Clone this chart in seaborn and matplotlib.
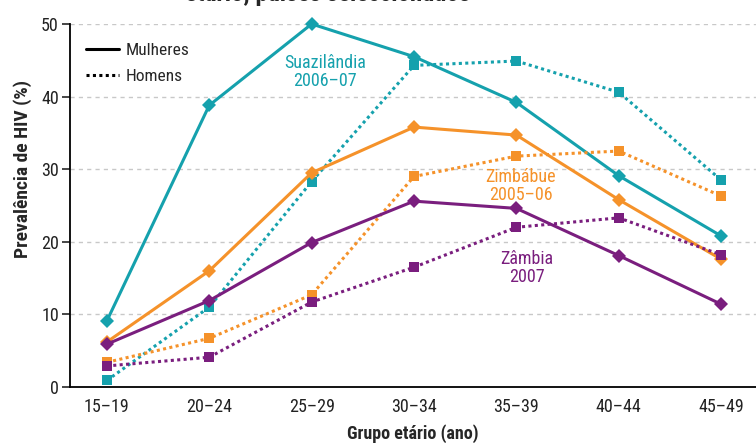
import pandas as pd
import matplotlib.pyplot as plt
from matplotlib.lines import Line2D
from matplotlib import font_manager
import seaborn as sns

# Age groups (x categories)
grupos = ["15–19", "20–24", "25–29", "30–34", "35–39", "40–44", "45–49"]

# HIV prevalence (%)
suazi_mulheres = [9.1, 38.8, 50.0, 45.5, 39.2, 29.1, 20.8]
suazi_homens = [0.9, 11.0, 28.3, 44.3, 44.9, 40.6, 28.5]
zimb_mulheres = [6.2, 16.0, 29.5, 35.8, 34.7, 25.8, 17.6]
zimb_homens = [3.4, 6.7, 12.7, 29.0, 31.8, 32.5, 26.3]
zamb_mulheres = [5.9, 11.9, 19.9, 25.6, 24.6, 18.1, 11.4]
zamb_homens = [2.9, 4.1, 11.7, 16.5, 22.0, 23.3, 18.2]

paises = ["Suazilândia", "Zimbábue", "Zâmbia"]
cores = {"Suazilândia": "#15A1AD", "Zimbábue": "#F5922A", "Zâmbia": "#7A1E7E"}

series = {
    ("Suazilândia", "Mulheres"): suazi_mulheres,
    ("Suazilândia", "Homens"): suazi_homens,
    ("Zimbábue", "Mulheres"): zimb_mulheres,
    ("Zimbábue", "Homens"): zimb_homens,
    ("Zâmbia", "Mulheres"): zamb_mulheres,
    ("Zâmbia", "Homens"): zamb_homens,
}

rows = []
for (pais, sexo), vals in series.items():
    for i, v in enumerate(vals):
        rows.append({"pais": pais, "sexo": sexo, "idx": i, "valor": v})
df = pd.DataFrame(rows)

sns.set_style("white")
# pick a narrow family if one is installed
installed = {f.name for f in font_manager.fontManager.ttflist}
fams = [f for f in ["Liberation Sans Narrow", "DejaVu Sans Condensed", "Roboto Condensed", "Roboto"]
        if f in installed]
plt.rcParams["font.family"] = fams + ["DejaVu Sans"]

fig = plt.figure(figsize=(7.56, 4.43), dpi=100)
ax = fig.add_axes([70 / 756, 1 - 387 / 443, 1 - 70 / 756, (387 - 24) / 443])

# Dashed grid lines
for g in [10, 20, 30, 40, 50]:
    ax.axhline(g, color="#c8c8c8", lw=1, ls=(0, (3, 3)), zorder=0)

sns.lineplot(
    data=df, x="idx", y="valor", hue="pais", style="sexo",
    palette=cores, hue_order=paises, style_order=["Mulheres", "Homens"],
    markers={"Mulheres": "D", "Homens": "s"},
    dashes={"Mulheres": "", "Homens": (1, 1.1)},
    markersize=7.5, markeredgewidth=0, linewidth=2.2,
    legend=False, ax=ax, clip_on=False, zorder=3,
)

ax.set_xlim(-0.36, 6.34)
ax.set_ylim(0, 50)
ax.set_xticks(range(len(grupos)))
ax.set_xticklabels(grupos, fontsize=13, color="#222222")
ax.set_xticks([i + 0.5 for i in range(6)], minor=True)
ax.tick_params(axis="x", which="major", length=0, pad=8)
ax.tick_params(axis="x", which="minor", length=6, width=1.2, color="black", direction="out")
ax.set_yticks([0, 10, 20, 30, 40, 50])
ax.tick_params(axis="y", length=6, width=1.2, labelsize=13, pad=2, left=True,
               direction="out", labelcolor="#222222")
for s in ["top", "right"]:
    ax.spines[s].set_visible(False)
for s in ["left", "bottom"]:
    ax.spines[s].set_color("black")
    ax.spines[s].set_linewidth(1.3)

ax.set_xlabel("Grupo etário (ano)", fontsize=13, fontweight="bold", labelpad=6)
ax.set_ylabel("Prevalência de HIV (%)", fontsize=14, fontweight="bold")
ax.yaxis.set_label_coords(-0.056, 0.6)

# Country labels
ax.text(2.13, 43.4, "Suazilândia\n2006–07", color=cores["Suazilândia"], fontsize=13,
        ha="center", va="center", linespacing=1.0)
ax.text(4.04, 27.7, "Zimbábue\n2005–06", color=cores["Zimbábue"], fontsize=13,
        ha="center", va="center", linespacing=1.0)
ax.text(4.1, 16.4, "Zâmbia\n2007", color=cores["Zâmbia"], fontsize=13,
        ha="center", va="center", linespacing=1.0)

# Legend
handles = [
    Line2D([], [], color="black", lw=2.2),
    Line2D([], [], color="black", lw=2.2, dashes=(1, 1.1)),
]
ax.legend(handles, ["Mulheres", "Homens"], loc="upper left", bbox_to_anchor=(0.0, 0.99),
          frameon=False, fontsize=12.5, handlelength=1.9, handletextpad=0.4, labelspacing=0.6)

# Cut-off title at the top
fig.text(328 / 756, 1 - 6 / 443, "etário, países seleccionados", ha="center", va="bottom",
         fontsize=18, fontweight="bold")

fig.savefig("out.png", dpi=100)
